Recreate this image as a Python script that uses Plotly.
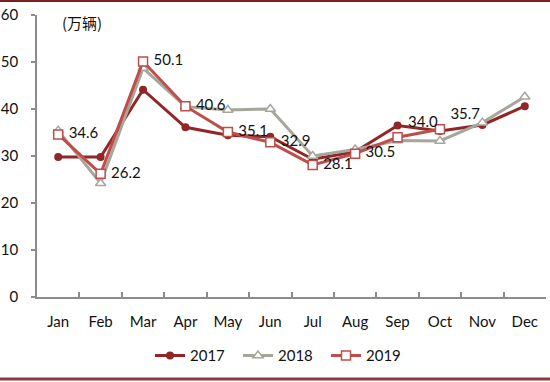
import plotly.graph_objects as go

months = ["Jan", "Feb", "Mar", "Apr", "May", "Jun", "Jul", "Aug", "Sep", "Oct", "Nov", "Dec"]
sales_2017 = [29.8, 29.8, 44.1, 36.1, 34.4, 34.1, 29.3, 30.9, 36.5, 35.3, 36.6, 40.6]
sales_2018 = [35.4, 24.2, 48.7, 40.5, 39.8, 40.0, 30.0, 31.4, 33.3, 33.2, 37.1, 42.6]
sales_2019 = [34.6, 26.2, 50.1, 40.6, 35.1, 32.9, 28.1, 30.5, 34.0, 35.7]
labels_2019 = ["34.6", "26.2", "50.1", "40.6", "35.1", "32.9", "28.1", "30.5", "34.0", "35.7"]
label_pos_2019 = ["middle right"] * 8 + ["top right", "top right"]
y_ticks = [0, 10, 20, 30, 40, 50, 60]
unit_label = "(万辆)"

c2017 = "#922626"
c2018 = "#A6A69A"
c2019 = "#BF4D4A"
font = "Lato, 'Open Sans', sans-serif"

fig = go.Figure()
fig.add_trace(go.Scatter(
    x=months, y=sales_2017, name="2017", mode="lines+markers",
    line=dict(color=c2017, width=3),
    marker=dict(symbol="circle", size=8, color=c2017),
))
fig.add_trace(go.Scatter(
    x=months, y=sales_2018, name="2018", mode="lines+markers",
    line=dict(color=c2018, width=3),
    marker=dict(symbol="triangle-up", size=9, color="white", line=dict(color=c2018, width=1.5)),
))
fig.add_trace(go.Scatter(
    x=months[:len(sales_2019)], y=sales_2019, name="2019", mode="lines+markers+text",
    line=dict(color=c2019, width=3),
    marker=dict(symbol="square", size=9, color="white", line=dict(color=c2019, width=1.5)),
    text=[" " + t for t in labels_2019], textposition=label_pos_2019,
    textfont=dict(family=font, size=15, color="#111111"),
))

fig.update_layout(
    width=550, height=382,
    margin=dict(l=37, r=4, t=15, b=85, autoexpand=False),
    paper_bgcolor="white", plot_bgcolor="white",
    font=dict(family=font, size=15, color="#111111"),
    showlegend=True,
    legend=dict(orientation="h", x=(150 - 37) / 509, xanchor="left", y=-0.15, yanchor="top",
                font=dict(family=font, size=15, color="#111111"),
                itemwidth=30, tracegroupgap=0, entrywidth=43, entrywidthmode="pixels"),
    xaxis=dict(
        type="category", categoryorder="array", categoryarray=months,
        range=[-0.5, 11.5], automargin=False,
        showline=True, linecolor="#8C8C8C", linewidth=1.5,
        ticks="inside", tickson="boundaries", ticklen=5, tickcolor="#8C8C8C", tickwidth=1.5,
        showgrid=False, zeroline=False,
        ticklabelstandoff=10,
        tickfont=dict(family=font, size=15, color="#111111"),
    ),
    yaxis=dict(
        range=[0, 60], tickvals=y_ticks, automargin=False,
        showline=True, linecolor="#8C8C8C", linewidth=1.5,
        ticks="outside", ticklen=4, tickcolor="#8C8C8C", tickwidth=1.5,
        showgrid=False, zeroline=False,
        ticklabelstandoff=10,
        tickfont=dict(family=font, size=15, color="#111111"),
    ),
    annotations=[dict(
        text=unit_label, xref="paper", yref="paper", x=0.045, y=0.975,
        xanchor="left", yanchor="middle", showarrow=False,
        font=dict(family="'Noto Sans CJK SC', sans-serif", size=15, color="#111111"),
    )],
    shapes=[
        dict(type="line", xref="paper", yref="paper", x0=-37/509, x1=513/509,
             y0=1 + 14/282, y1=1 + 14/282, line=dict(color="#7A1E1E", width=2)),
        dict(type="line", xref="paper", yref="paper", x0=-37/509, x1=513/509,
             y0=-82/282, y1=-82/282, line=dict(color="#8B3A3A", width=3)),
    ],
)

fig.write_html("out.html", config={"displayModeBar": False},
               post_script="document.body.style.margin='0';document.body.style.padding='0';")
